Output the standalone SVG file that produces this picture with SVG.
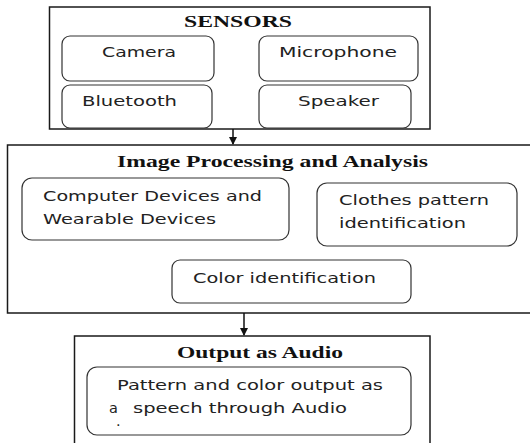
<svg xmlns="http://www.w3.org/2000/svg" width="530" height="443" viewBox="0 0 530 443">
<style>
.frame{fill:#fff;stroke:#1a1a1a;stroke-width:1.5}
.node{fill:#fff;stroke:#333;stroke-width:1.2}
.title{font-family:"Liberation Serif","Times New Roman",serif;font-weight:bold;font-size:17px;fill:#111}
.lbl{font-family:"DejaVu Sans","Verdana",sans-serif;font-size:14.5px;fill:#222}
.conn{stroke:#111;stroke-width:1.5;fill:none}
</style>
<defs>
<marker id="ah" markerWidth="8" markerHeight="8" refX="7" refY="4" orient="auto" markerUnits="userSpaceOnUse">
<path d="M0,0 L8,4 L0,8 Z" fill="#111"/>
</marker>
</defs>
<rect width="530" height="443" fill="#fff"/>

<g id="sensors">
<rect class="frame" x="49.5" y="7" width="380.5" height="122"/>
<text class="title" x="238" y="27" text-anchor="middle" textLength="108" lengthAdjust="spacingAndGlyphs">SENSORS</text>
</g>
<g id="camera">
<rect class="node" x="62" y="36" width="152" height="45" rx="8"/>
<text class="lbl" x="102" y="57" textLength="74" lengthAdjust="spacingAndGlyphs">Camera</text>
</g>
<g id="microphone">
<rect class="node" x="259" y="36" width="159" height="45" rx="8"/>
<text class="lbl" x="279" y="57" textLength="118" lengthAdjust="spacingAndGlyphs">Microphone</text>
</g>
<g id="bluetooth">
<rect class="node" x="62" y="85" width="150" height="43" rx="8"/>
<text class="lbl" x="82" y="106" textLength="95" lengthAdjust="spacingAndGlyphs">Bluetooth</text>
</g>
<g id="speaker">
<rect class="node" x="259" y="85" width="152" height="43" rx="8"/>
<text class="lbl" x="298" y="106" textLength="81" lengthAdjust="spacingAndGlyphs">Speaker</text>
</g>

<g id="processing">
<path class="frame" d="M531,145 H7.5 V313 H531"/>
<text class="title" x="272.5" y="167" text-anchor="middle" textLength="311" lengthAdjust="spacingAndGlyphs">Image Processing and Analysis</text>
</g>
<g id="devices">
<rect class="node" x="22" y="178" width="267" height="62" rx="10"/>
<text class="lbl" x="43" y="201" textLength="219" lengthAdjust="spacingAndGlyphs">Computer Devices and</text>
<text class="lbl" x="43" y="224" textLength="173" lengthAdjust="spacingAndGlyphs">Wearable Devices</text>
</g>
<g id="clothes">
<rect class="node" x="317" y="183" width="200" height="63" rx="10"/>
<text class="lbl" x="339" y="205" textLength="150" lengthAdjust="spacingAndGlyphs">Clothes pattern</text>
<text class="lbl" x="339" y="228" textLength="127" lengthAdjust="spacingAndGlyphs">identification</text>
</g>
<g id="color">
<rect class="node" x="172" y="260" width="239" height="43" rx="8"/>
<text class="lbl" x="193" y="283" textLength="183" lengthAdjust="spacingAndGlyphs">Color identification</text>
</g>

<g id="output">
<path class="frame" d="M74.5,444 V336 H430 V444"/>
<text class="title" x="260" y="358" text-anchor="middle" textLength="166" lengthAdjust="spacingAndGlyphs">Output as Audio</text>
</g>
<g id="speech">
<rect class="node" x="87" y="367" width="324" height="68" rx="10"/>
<text class="lbl" x="117" y="390" textLength="266" lengthAdjust="spacingAndGlyphs">Pattern and color output as</text>
<text class="lbl" x="109" y="413">a</text>
<text class="lbl" x="133" y="413" textLength="214" lengthAdjust="spacingAndGlyphs">speech through Audio</text>
<text class="lbl" x="116" y="426" font-size="8">.</text>
</g>

<g id="connectors">
<line class="conn" x1="233" y1="129" x2="233" y2="144" marker-end="url(#ah)"/>
<line class="conn" x1="244" y1="313" x2="244" y2="335" marker-end="url(#ah)"/>
</g>
</svg>
